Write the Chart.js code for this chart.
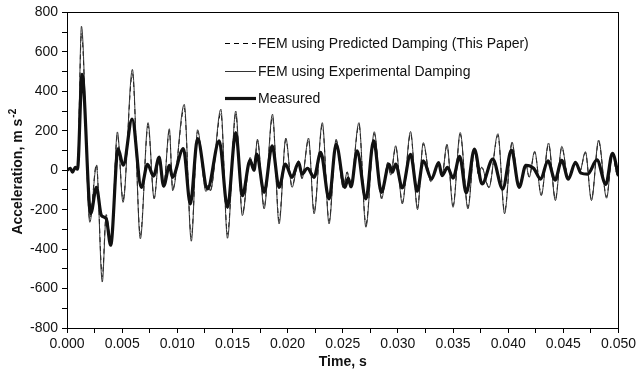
<!DOCTYPE html>
<html>
<head>
<meta charset="utf-8">
<script src="https://cdn.jsdelivr.net/npm/chart.js@4"></script>
<style>
  html, body { margin: 0; padding: 0; background: #fff; }
  #wrap { width: 639px; height: 379px; }
</style>
</head>
<body>
<div id="wrap"><canvas id="accChart" width="639" height="379"></canvas></div>
<script>
// FEM time points (ms) and accelerations (m s^-2)
const femTimeMs = [
  0, 0.3, 0.5, 0.75, 0.95, 1.31, 2.07, 2.67, 3.2, 3.55, 4.0, 4.57, 5.08, 5.93, 6.65, 7.35, 7.9,
  8.37, 8.76, 9.28, 9.58, 10.63, 11.27, 11.84, 12.6, 12.8, 13.0, 13.95, 14.55, 15.3, 15.9, 16.6,
  16.95, 17.27, 17.87, 18.63, 19.23, 19.84, 20.4, 21.0, 21.3, 21.9, 22.4, 23.15, 23.76, 24.4, 25.05,
  25.4, 25.7, 26.47, 27.1, 27.86, 28.52, 29.1, 29.35, 29.8, 30.4, 31.15, 31.78, 32.3, 32.98, 33.7,
  34.0, 34.45, 35.0, 35.65, 36.35, 36.95, 37.3, 37.6, 38.25, 39.07, 39.67, 40.35, 40.95, 41.6, 41.9,
  42.4, 43.0, 43.66, 44.28, 44.86, 45.45, 46.1, 46.5, 47.0, 47.55, 48.2, 48.92, 49.45, 49.85, 50
];
const femExperimental = [
  0, 15, -10, 20, 10, 730, -264, 23, -567, -235, -385, 194, -163, 511, -348, 241, -146,
  73, -87, 210, -104, 334, -360, 205, -108, -80, -105, 309, -345, 300, -230, 65,
  5, 157, -196, 284, -272, 163, -87, 48, -44, 163, -221, 241, -272, 157, -90,
  -10, -90, 241, -289, 195, -146, 40, -25, 124, -171, 196, -200, 140, -58, 38,
  -27, 132, -188, 191, -196, 107, -20, 15, -90, 185, -221, 143, -87, 31, -36,
  96, -129, 138, -154, 121, -42, 40, -5, 94, -154, 153, -142, 86, -20, -30
];
const femPredicted = [
  0, 12, -8, 18, 10, 695, -250, 30, -540, -225, -370, 180, -150, 490, -330, 225, -140,
  70, -80, 200, -95, 315, -340, 195, -100, -75, -100, 290, -325, 285, -220, 60,
  5, 150, -185, 270, -255, 155, -80, 45, -40, 155, -210, 228, -258, 150, -85,
  -8, -85, 230, -275, 185, -140, 38, -22, 118, -163, 186, -190, 133, -55, 36,
  -25, 126, -178, 182, -186, 102, -18, 14, -85, 176, -210, 136, -83, 30, -34,
  91, -123, 131, -146, 115, -40, 38, -5, 89, -146, 145, -135, 82, -20, -30
];

// measured signal
const measuredTimeMs = [
  0, 0.3, 0.5, 0.75, 0.95, 1.37, 2.15, 2.67, 3.12, 3.55, 3.96, 4.63, 5.1, 5.9, 6.74, 7.3, 7.85,
  8.35, 8.76, 9.3, 9.55, 10.55, 11.18, 11.84, 12.74, 13.8, 14.55, 15.3, 15.9, 16.6, 16.95, 17.2,
  17.87, 18.6, 19.23, 19.8, 20.4, 21.0, 21.3, 21.8, 22.4, 23.0, 23.76, 24.4, 25.2, 25.5, 25.75,
  26.3, 27.1, 27.8, 28.5, 29.2, 29.5, 29.8, 30.4, 31.15, 31.75, 32.3, 33.05, 33.7, 34.0, 34.5,
  35.0, 35.6, 36.2, 36.94, 37.63, 38.6, 39.5, 40.3, 41.0, 41.6, 42.3, 42.95, 43.6, 44.25, 44.85,
  45.45, 46.1, 46.6, 47.2, 48.05, 48.85, 49.45, 50
];
const measuredValues = [
  0, 10, -10, 15, 5, 486, -220, -87, -230, -245, -380, 108, 25, 259, -87, 30, -30,
  65, -80, 25, -36, 110, -171, 160, -95, 149, -188, 191, -129, 50, 0, 82,
  -112, 124, -87, 31, -36, 40, -20, 10, -36, 90, -146, 131, -87, -40, -85,
  98, -146, 149, -112, 30, -10, 31, -90, 80, -106, 48, -44, 38, -27, 14,
  -40, 70, -115, 107, -70, 56, -95, 102, -87, 25, 10, -45, 48, -50, 50,
  -45, 40, -15, -20, 52, -72, 86, -30
];

const seriesNames = [
  'FEM using Predicted Damping (This Paper)',
  'FEM using Experimental Damping',
  'Measured'
];

function toPoints(timesMs, values) {
  return timesMs.map((t, i) => ({ x: t / 1000, y: values[i] }));
}

const FONT = '"Liberation Sans", Arial, Helvetica, sans-serif';

// frame, legend and y title with superscript
const decorPlugin = {
  id: 'decor',
  afterDraw(chart) {
    const ctx = chart.ctx;
    const a = chart.chartArea;
    ctx.save();
    ctx.strokeStyle = '#000';
    ctx.lineWidth = 1;
    ctx.strokeRect(Math.round(a.left) + 0.5, Math.round(a.top) + 0.5,
      Math.round(a.right - a.left), Math.round(a.bottom - a.top));

    // legend
    const rows = [43, 71, 98];
    ctx.font = '14px ' + FONT;
    ctx.textBaseline = 'middle';
    ctx.fillStyle = '#111';
    chart.data.datasets.forEach((ds, i) => {
      ctx.beginPath();
      ctx.strokeStyle = ds.borderColor;
      ctx.lineWidth = ds.borderWidth;
      ctx.setLineDash(ds.borderDash || []);
      ctx.moveTo(225, rows[i] + 0.5);
      ctx.lineTo(256, rows[i] + 0.5);
      ctx.stroke();
      ctx.setLineDash([]);
      ctx.fillText(ds.label, 258, rows[i] + 1);
    });

    // y axis title
    ctx.translate(18, (a.top + a.bottom) / 2 + 2);
    ctx.rotate(-Math.PI / 2);
    const main = 'Acceleration, m s';
    const sup = '-2';
    ctx.font = 'bold 14px ' + FONT;
    const w1 = ctx.measureText(main).width;
    ctx.font = 'bold 10px ' + FONT;
    const w2 = ctx.measureText(sup).width;
    const x0 = -(w1 + w2) / 2;
    ctx.fillStyle = '#111';
    ctx.textBaseline = 'middle';
    ctx.font = 'bold 14px ' + FONT;
    ctx.fillText(main, x0, 0);
    ctx.font = 'bold 10px ' + FONT;
    ctx.fillText(sup, x0 + w1 + 1, -5);
    ctx.restore();
  }
};

new Chart(document.getElementById('accChart').getContext('2d'), {
  type: 'line',
  data: {
    datasets: [
      {
        label: seriesNames[0],
        data: toPoints(femTimeMs, femPredicted),
        borderColor: '#000',
        borderWidth: 1,
        borderDash: [5, 4],
        order: 2
      },
      {
        label: seriesNames[1],
        data: toPoints(femTimeMs, femExperimental),
        borderColor: '#333',
        borderWidth: 1,
        order: 1
      },
      {
        label: seriesNames[2],
        data: toPoints(measuredTimeMs, measuredValues),
        borderColor: '#111',
        borderWidth: 3.2,
        order: 0
      }
    ]
  },
  options: {
    responsive: false,
    animation: false,
    events: [],
    parsing: false,
    elements: {
      point: { radius: 0 },
      line: { cubicInterpolationMode: 'monotone', fill: false }
    },
    layout: { padding: { top: 11, right: 19, left: 0, bottom: 0 } },
    plugins: {
      legend: { display: false },
      tooltip: { enabled: false }
    },
    scales: {
      x: {
        type: 'linear',
        min: 0,
        max: 0.05,
        afterFit(s) { s.height = 51; },
        ticks: {
          stepSize: 0.0025,
          autoSkip: false,
          maxRotation: 0,
          color: '#111',
          padding: 3,
          font: { family: FONT, size: 14 },
          callback(v) {
            const k = Math.round(v / 0.0025);
            return k % 2 === 0 ? (k * 0.0025).toFixed(3) : '';
          }
        },
        grid: { drawOnChartArea: false, color: '#000', tickLength: 5 },
        border: { color: '#000' },
        title: {
          display: true,
          text: 'Time, s',
          color: '#111',
          font: { family: FONT, size: 14, weight: 'bold' },
          padding: { top: 2, bottom: 8 }
        }
      },
      y: {
        min: -800,
        max: 800,
        afterFit(s) { s.width = 67; },
        ticks: {
          stepSize: 100,
          autoSkip: false,
          color: '#111',
          padding: 4,
          font: { family: FONT, size: 14 },
          callback(v) { return v % 200 === 0 ? String(v) : ''; }
        },
        grid: { drawOnChartArea: false, color: '#000', tickLength: 5 },
        border: { color: '#000' }
      }
    }
  },
  plugins: [decorPlugin]
});
</script>
</body>
</html>
